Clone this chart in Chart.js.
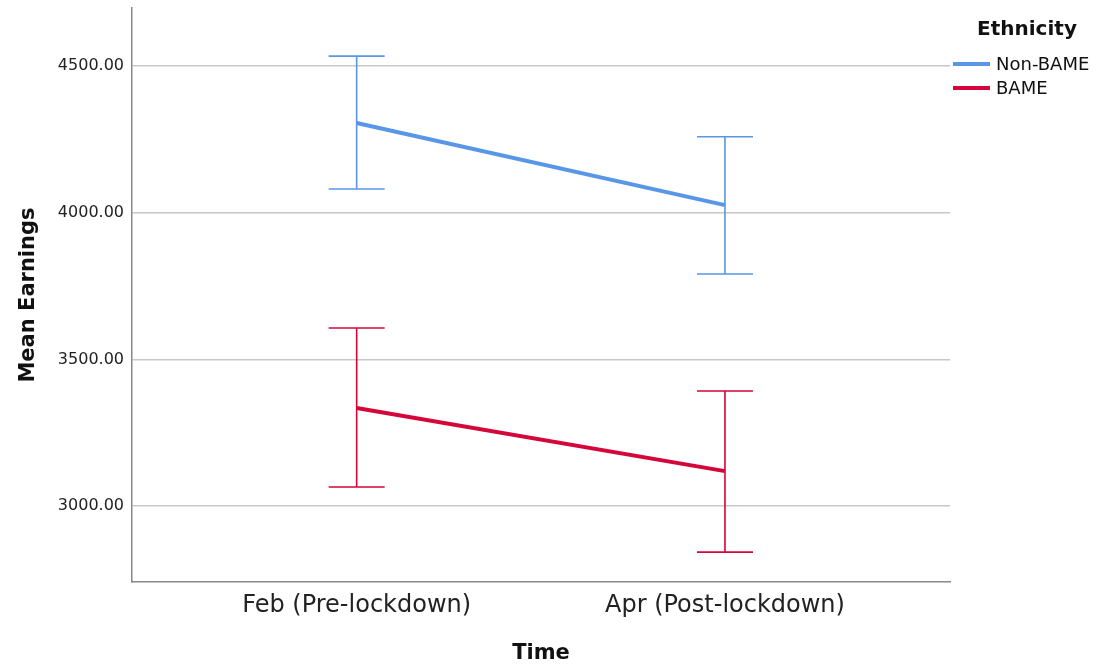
<!DOCTYPE html>
<html>
<head>
<meta charset="utf-8">
<script src="https://cdn.jsdelivr.net/npm/chart.js@4.4.1/dist/chart.umd.min.js"></script>
<style>
html,body{margin:0;padding:0;background:#fff;}
#wrap{width:1106px;height:666px;}
</style>
</head>
<body>
<div id="wrap"><canvas id="c" width="1106" height="666"></canvas></div>
<script>
const categories = ["Feb (Pre-lockdown)", "Apr (Post-lockdown)"];
const seriesNames = ["Non-BAME", "BAME"];
const nonBameMean = [4306, 4026];
const nonBameLower = [4081, 3791];
const nonBameUpper = [4534, 4259];
const bameMean = [3334, 3119];
const bameLower = [3065, 2843];
const bameUpper = [3607, 3392];
const yTicks = [3000, 3500, 4000, 4500];

const BLUE = "rgb(88,150,232)";
const RED = "rgb(212,6,58)";
const FONT = "'DejaVu Sans', sans-serif";

function pts(arr){ return arr.map((v,i)=>({x:i, y:v})); }

const errorBars = {
  id: 'errorBars',
  beforeDatasetsDraw(chart){
    const ctx = chart.ctx, xs = chart.scales.x, ys = chart.scales.y;
    chart.data.datasets.forEach(ds=>{
      ctx.save();
      ctx.strokeStyle = ds.borderColor;
      ctx.lineWidth = 1.6;
      ds.lower.forEach((lo,i)=>{
        const px = xs.getPixelForValue(i);
        const pl = ys.getPixelForValue(lo), pu = ys.getPixelForValue(ds.upper[i]);
        const cap = 28;
        ctx.beginPath();
        ctx.moveTo(px, pl); ctx.lineTo(px, pu);
        ctx.moveTo(px-cap, pl); ctx.lineTo(px+cap, pl);
        ctx.moveTo(px-cap, pu); ctx.lineTo(px+cap, pu);
        ctx.stroke();
      });
      ctx.restore();
    });
  }
};

const customLegend = {
  id: 'customLegend',
  afterDraw(chart){
    const ctx = chart.ctx;
    ctx.save();
    ctx.fillStyle = '#111';
    ctx.font = "bold 20px " + FONT;
    ctx.textAlign = 'center';
    ctx.textBaseline = 'middle';
    ctx.fillText("Ethnicity", 1027, 30);
    ctx.font = "18px " + FONT;
    ctx.textAlign = 'left';
    chart.data.datasets.forEach((ds,i)=>{
      const y = 64 + i*24;
      ctx.strokeStyle = ds.borderColor;
      ctx.lineWidth = 4;
      ctx.beginPath(); ctx.moveTo(953, y); ctx.lineTo(990, y); ctx.stroke();
      ctx.fillStyle = '#111';
      ctx.fillText(ds.label, 996, y+1);
    });
    ctx.restore();
  }
};

new Chart(document.getElementById('c'), {
  type: 'line',
  data: {
    datasets: [
      {label: seriesNames[0], data: pts(nonBameMean), lower: nonBameLower, upper: nonBameUpper,
       borderColor: BLUE, borderWidth: 4, pointRadius: 0, fill: false, tension: 0},
      {label: seriesNames[1], data: pts(bameMean), lower: bameLower, upper: bameUpper,
       borderColor: RED, borderWidth: 4, pointRadius: 0, fill: false, tension: 0}
    ]
  },
  options: {
    responsive: false,
    animation: false,
    devicePixelRatio: 1,
    layout: {padding: {top: 0, right: 156, left: 0, bottom: 0}},
    plugins: {legend: {display: false}, tooltip: {enabled: false}},
    scales: {
      x: {
        type: 'linear', min: -0.610, max: 1.611,
        afterBuildTicks(s){ s.ticks = categories.map((c,i)=>({value:i})); },
        afterFit(s){ s.height = 84; s.paddingLeft = 0; s.paddingRight = 0; },
        ticks: {callback: (v)=>categories[v], font: {family: FONT, size: 24}, color: '#222', padding: 9, maxRotation: 0, autoSkip: false},
        grid: {display: true, color: 'rgba(0,0,0,0)', drawTicks: false},
        border: {display: true, color: '#888', width: 1.5},
        title: {display: true, text: 'Time', font: {family: FONT, size: 21, weight: 'bold'}, color: '#111', padding: {top: 0, bottom: 0}}
      },
      y: {
        type: 'linear', min: 2741, max: 4698,
        afterBuildTicks(s){ s.ticks = yTicks.map(v=>({value:v})); },
        afterFit(s){ s.width = 132; s.paddingTop = 8; s.paddingBottom = 0; },
        ticks: {callback: (v)=>Number(v).toFixed(2), font: {family: FONT, size: 16}, color: '#222', padding: 8},
        grid: {color: '#c8c8c8', lineWidth: 1.6, drawTicks: false},
        border: {display: true, color: '#888', width: 1.5},
        title: {display: true, text: 'Mean Earnings', font: {family: FONT, size: 21, weight: 'bold'}, color: '#111', padding: {top: 16, bottom: 0}}
      }
    }
  },
  plugins: [errorBars, customLegend]
});
</script>
</body>
</html>
